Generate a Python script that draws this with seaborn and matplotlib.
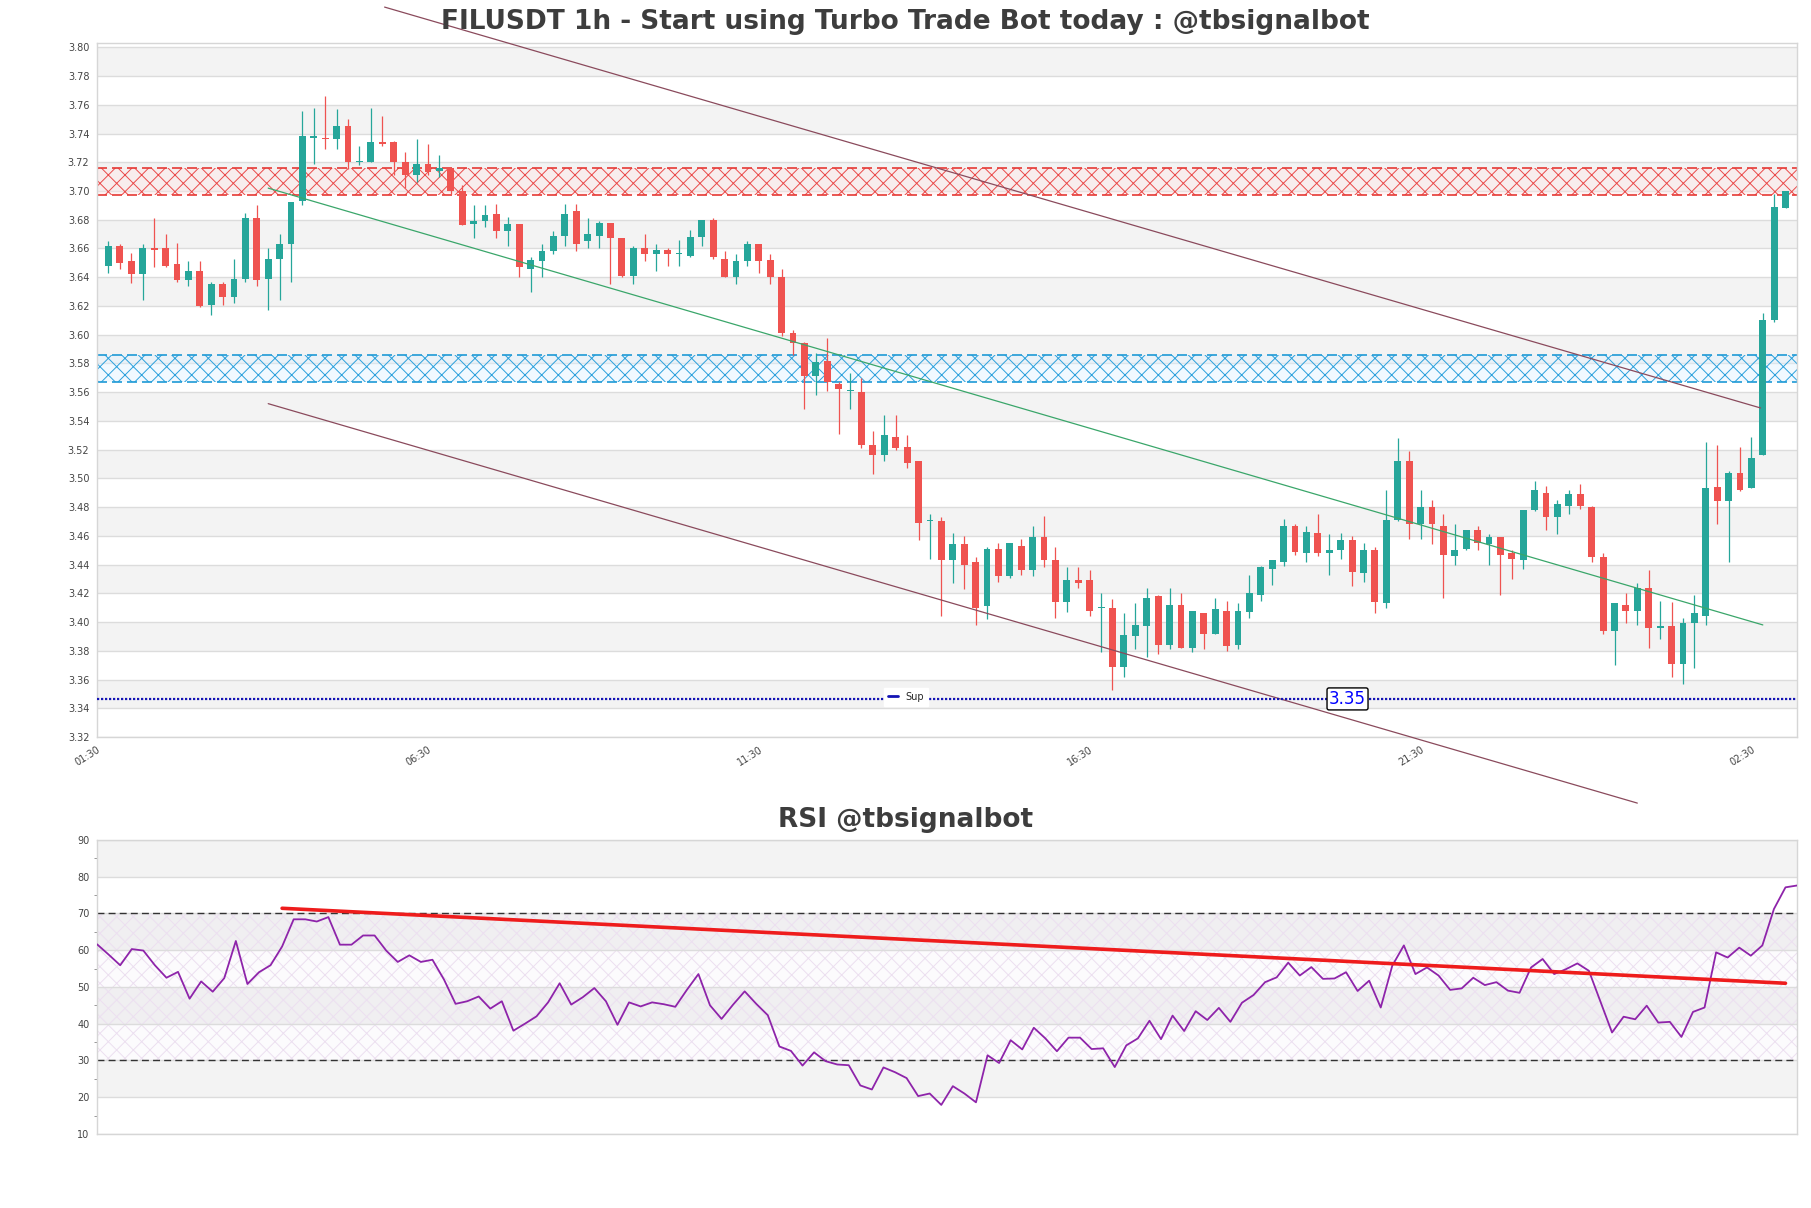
import numpy as np
import pandas as pd
import seaborn as sns
import matplotlib.pyplot as plt
from matplotlib.lines import Line2D

# ---- candle data (1h FILUSDT) ----
opens = [3.648, 3.662, 3.651, 3.642, 3.660, 3.660, 3.649, 3.638, 3.644, 3.621,
         3.635, 3.626, 3.639, 3.681, 3.639, 3.653, 3.663, 3.693, 3.737, 3.737,
         3.736, 3.745, 3.720, 3.720, 3.734, 3.734, 3.720, 3.711, 3.719, 3.714,
         3.716, 3.700, 3.677, 3.679, 3.684, 3.672, 3.677, 3.646, 3.651, 3.658,
         3.669, 3.686, 3.665, 3.669, 3.678, 3.667, 3.641, 3.660, 3.656, 3.659,
         3.656, 3.655, 3.668, 3.680, 3.653, 3.640, 3.651, 3.663, 3.652, 3.640,
         3.601, 3.594, 3.571, 3.582, 3.566, 3.561, 3.560, 3.523, 3.516, 3.529,
         3.522, 3.512, 3.470, 3.470, 3.443, 3.454, 3.442, 3.411, 3.451, 3.432,
         3.453, 3.436, 3.459, 3.443, 3.414, 3.429, 3.429, 3.410, 3.410, 3.369,
         3.390, 3.397, 3.418, 3.384, 3.412, 3.382, 3.406, 3.392, 3.408, 3.384,
         3.407, 3.419, 3.437, 3.442, 3.467, 3.448, 3.462, 3.448, 3.450, 3.457,
         3.434, 3.450, 3.413, 3.471, 3.512, 3.468, 3.480, 3.467, 3.446, 3.451,
         3.464, 3.454, 3.459, 3.448, 3.443, 3.478, 3.490, 3.473, 3.481, 3.489,
         3.480, 3.445, 3.394, 3.412, 3.408, 3.424, 3.396, 3.397, 3.371, 3.399,
         3.404, 3.494, 3.484, 3.504, 3.493, 3.516, 3.610, 3.688]
highs = [3.665, 3.663, 3.657, 3.663, 3.681, 3.670, 3.664, 3.651, 3.651, 3.637,
         3.637, 3.653, 3.685, 3.690, 3.660, 3.670, 3.692, 3.756, 3.758, 3.766,
         3.757, 3.750, 3.731, 3.758, 3.752, 3.735, 3.727, 3.736, 3.733, 3.725,
         3.716, 3.704, 3.690, 3.690, 3.691, 3.682, 3.677, 3.654, 3.663, 3.672,
         3.691, 3.691, 3.681, 3.679, 3.678, 3.667, 3.662, 3.670, 3.663, 3.660,
         3.666, 3.673, 3.680, 3.681, 3.658, 3.656, 3.665, 3.663, 3.656, 3.646,
         3.603, 3.595, 3.587, 3.598, 3.567, 3.573, 3.570, 3.533, 3.544, 3.544,
         3.530, 3.512, 3.475, 3.473, 3.462, 3.460, 3.445, 3.452, 3.455, 3.455,
         3.458, 3.467, 3.474, 3.452, 3.438, 3.438, 3.436, 3.420, 3.416, 3.406,
         3.413, 3.424, 3.419, 3.424, 3.420, 3.408, 3.406, 3.417, 3.415, 3.413,
         3.433, 3.439, 3.443, 3.472, 3.468, 3.467, 3.475, 3.461, 3.462, 3.460,
         3.455, 3.452, 3.492, 3.528, 3.519, 3.492, 3.485, 3.475, 3.468, 3.464,
         3.467, 3.461, 3.459, 3.450, 3.478, 3.498, 3.495, 3.485, 3.492, 3.496,
         3.481, 3.448, 3.413, 3.420, 3.427, 3.436, 3.415, 3.414, 3.403, 3.419,
         3.525, 3.523, 3.505, 3.522, 3.529, 3.615, 3.698, 3.700]
lows = [3.643, 3.646, 3.636, 3.624, 3.647, 3.647, 3.637, 3.634, 3.619, 3.614,
        3.621, 3.622, 3.637, 3.634, 3.617, 3.624, 3.637, 3.690, 3.719, 3.729,
        3.729, 3.715, 3.718, 3.720, 3.731, 3.711, 3.702, 3.706, 3.711, 3.710,
        3.698, 3.676, 3.667, 3.675, 3.667, 3.662, 3.640, 3.630, 3.640, 3.656,
        3.662, 3.658, 3.660, 3.660, 3.635, 3.640, 3.635, 3.651, 3.644, 3.648,
        3.648, 3.654, 3.662, 3.653, 3.640, 3.635, 3.648, 3.643, 3.635, 3.599,
        3.586, 3.548, 3.558, 3.561, 3.531, 3.548, 3.521, 3.503, 3.512, 3.520,
        3.507, 3.457, 3.444, 3.404, 3.427, 3.423, 3.398, 3.402, 3.428, 3.431,
        3.433, 3.432, 3.438, 3.403, 3.407, 3.424, 3.404, 3.379, 3.353, 3.362,
        3.381, 3.376, 3.378, 3.381, 3.382, 3.379, 3.381, 3.392, 3.380, 3.381,
        3.403, 3.415, 3.426, 3.439, 3.447, 3.442, 3.446, 3.433, 3.444, 3.425,
        3.428, 3.406, 3.410, 3.470, 3.458, 3.458, 3.454, 3.417, 3.440, 3.450,
        3.450, 3.440, 3.419, 3.430, 3.437, 3.477, 3.464, 3.461, 3.475, 3.479,
        3.442, 3.392, 3.370, 3.399, 3.398, 3.382, 3.388, 3.362, 3.357, 3.368,
        3.398, 3.468, 3.442, 3.491, 3.493, 3.516, 3.609, 3.688]
closes = [3.662, 3.650, 3.642, 3.660, 3.659, 3.648, 3.638, 3.644, 3.620, 3.635,
          3.626, 3.639, 3.681, 3.638, 3.653, 3.663, 3.692, 3.738, 3.738, 3.736,
          3.745, 3.720, 3.721, 3.734, 3.733, 3.720, 3.711, 3.719, 3.713, 3.716,
          3.700, 3.676, 3.679, 3.683, 3.672, 3.677, 3.647, 3.652, 3.658, 3.669,
          3.684, 3.663, 3.670, 3.678, 3.667, 3.641, 3.660, 3.656, 3.659, 3.656,
          3.656, 3.668, 3.680, 3.654, 3.640, 3.651, 3.663, 3.651, 3.640, 3.601,
          3.594, 3.571, 3.581, 3.567, 3.562, 3.561, 3.523, 3.516, 3.530, 3.521,
          3.511, 3.469, 3.471, 3.443, 3.454, 3.440, 3.410, 3.451, 3.432, 3.455,
          3.436, 3.459, 3.443, 3.414, 3.429, 3.427, 3.408, 3.4105, 3.369, 3.391,
          3.398, 3.417, 3.384, 3.412, 3.382, 3.408, 3.392, 3.409, 3.383, 3.408,
          3.420, 3.438, 3.443, 3.467, 3.449, 3.463, 3.448, 3.450, 3.457, 3.435,
          3.450, 3.414, 3.471, 3.512, 3.468, 3.480, 3.468, 3.447, 3.450, 3.464,
          3.455, 3.459, 3.447, 3.444, 3.478, 3.492, 3.473, 3.482, 3.489, 3.481,
          3.445, 3.394, 3.413, 3.408, 3.424, 3.396, 3.397, 3.371, 3.399, 3.406,
          3.493, 3.484, 3.504, 3.492, 3.514, 3.610, 3.689, 3.700]

rsi = [61.6, 58.8, 55.9, 60.3, 59.9, 55.9, 52.5, 54.1, 46.8, 51.5,
       48.7, 52.4, 62.5, 50.8, 54.0, 55.9, 61.0, 68.4, 68.4, 67.8,
       69.0, 61.5, 61.5, 64.0, 64.0, 59.9, 56.8, 58.6, 56.8, 57.4,
       52.0, 45.4, 46.1, 47.4, 44.1, 46.1, 38.1, 40.0, 42.0, 45.8,
       51.0, 45.2, 47.2, 49.7, 46.1, 39.7, 45.8, 44.7, 45.8, 45.3,
       44.6, 49.2, 53.5, 45.0, 41.3, 45.2, 48.8, 45.4, 42.3, 33.8,
       32.6, 28.6, 32.2, 29.8, 28.9, 28.7, 23.2, 22.1, 28.1, 26.8,
       25.2, 20.3, 21.0, 17.9, 23.0, 21.0, 18.6,
       31.4, 29.3, 35.5, 33.0, 38.9, 36.0, 32.5, 36.2, 36.2, 33.1,
       33.3, 28.2, 34.1, 36.0, 40.8, 35.8, 42.2, 38.0, 43.4, 41.0,
       44.3, 40.5, 45.7, 47.8, 51.3, 52.6, 56.6, 53.1, 55.4, 52.2,
       52.3, 54.0, 48.9, 51.7, 44.4, 55.8, 61.3, 53.5, 55.3, 53.1,
       49.2, 49.6, 52.5, 50.5, 51.3, 49.0, 48.4, 55.3, 57.6, 53.5,
       54.8, 56.4, 54.4, 46.0, 37.6, 41.9, 41.2, 44.9, 40.3, 40.5,
       36.4, 43.2, 44.4, 59.4, 58.0, 60.7, 58.5, 61.3, 71.2, 77.1,
       77.6]

time_labels = ['01:30', '06:30', '11:30', '16:30', '21:30', '02:30']

# zones / levels / trendlines (candle index, price)
resist_zone = [3.697, 3.716]
support_zone = [3.567, 3.586]
sup_level = 3.3465
channel_top_x, channel_top_y = [24.2, 144.8], [3.828, 3.549]
channel_bot_x, channel_bot_y = [14.0, 134.0], [3.552, 3.274]
mid_trend_x, mid_trend_y = [14.0, 145.0], [3.702, 3.398]
rsi_trend_x, rsi_trend_y = [16.0, 146.0], [71.4, 51.0]

GREEN = '#26a69a'
RED = '#ef5350'

sns.set_style('white')
plt.rcParams['font.family'] = ['DejaVu Sans']
plt.rcParams['hatch.linewidth'] = 0.7

df = pd.DataFrame({'open': opens, 'high': highs, 'low': lows, 'close': closes})
df['x'] = np.arange(len(df))
df['up'] = df['close'] >= df['open']
df['color'] = np.where(df['up'], GREEN, RED)
df['body_lo'] = df[['open', 'close']].min(axis=1)
df['body_h'] = (df['close'] - df['open']).abs().clip(lower=0.0006)

fig = plt.figure(figsize=(18.11, 12.08), dpi=100)
ax = fig.add_axes([0.0536, 0.3899, 0.9387, 0.5745])
rax = fig.add_axes([0.0536, 0.0613, 0.9387, 0.2434])

# ---------- price chart ----------
for lo in np.arange(3.34, 3.80, 0.04):
    ax.axhspan(lo, lo + 0.02, color='#f3f3f3', lw=0, zorder=0)

ax.axhspan(*resist_zone, facecolor=(1, 0.9, 0.9, 0.45), edgecolor='#ea4a4a',
           hatch='xx', lw=0, zorder=1)
ax.axhspan(*support_zone, facecolor=(0.88, 0.95, 1, 0.45), edgecolor='#2aa0dc',
           hatch='xx', lw=0, zorder=1)
for v in resist_zone:
    ax.axhline(v, color='#e53935', lw=1.2, ls=(0, (6, 3)), zorder=1.5)
for v in support_zone:
    ax.axhline(v, color='#1e9ad6', lw=1.2, ls=(0, (6, 3)), zorder=1.5)

ax.vlines(df['x'], df['low'], df['high'], color=df['color'], lw=0.9, zorder=3)
ax.bar(df['x'], df['body_h'], bottom=df['body_lo'], width=0.6,
       color=df['color'], lw=0, zorder=4)

ax.plot(channel_top_x, channel_top_y, color='#8a4a5c', lw=0.9, clip_on=False, zorder=5)
ax.plot(channel_bot_x, channel_bot_y, color='#8a4a5c', lw=0.9, clip_on=False, zorder=5)
ax.plot(mid_trend_x, mid_trend_y, color='#3aa66a', lw=0.9, zorder=5)

ax.axhline(sup_level, color='#1414b4', lw=1.6, ls=(0, (1, 0.8)), zorder=5)
ax.text(108.6, sup_level, '3.35', color='blue', fontsize=12, ha='center', va='center',
        zorder=7, bbox=dict(boxstyle='round,pad=0.12', fc='white', ec='black', lw=1))
leg = ax.legend(handles=[Line2D([], [], color='#1414b4', lw=2)], labels=['Sup'],
                loc='center', bbox_to_anchor=(0.476, 0.058), fontsize=7,
                handlelength=1.0, frameon=True, framealpha=1, edgecolor='white',
                fancybox=False)
leg.set_zorder(8)

ax.set_xlim(-1, 148)
ax.set_ylim(3.32, 3.803)
ax.set_yticks(np.arange(3.32, 3.801, 0.02))
ax.set_yticklabels([f'{v:.2f}' for v in np.arange(3.32, 3.801, 0.02)])
ax.set_xticks(np.arange(-1, 148, 29))
ax.set_xticklabels(time_labels, rotation=32, ha='right', rotation_mode='anchor')
ax.grid(axis='y', color='#dcdcdc', lw=1)
ax.set_axisbelow(True)
ax.tick_params(labelsize=7, colors='#444444', length=2)

# ---------- RSI ----------
rdf = pd.DataFrame({'x': np.arange(len(rsi)), 'rsi': rsi})
for lo in [20, 40, 60, 80]:
    rax.axhspan(lo, lo + 10, color='#f3f3f3', lw=0, zorder=0)
rax.axhspan(30, 70, facecolor=(0.85, 0.8, 0.9, 0.08), edgecolor='#ecdff0',
            hatch='xx', lw=0, zorder=0.5)
for v in [30, 70]:
    rax.axhline(v, color='#333333', lw=1, ls=(0, (5, 3)), zorder=2)
sns.lineplot(data=rdf, x='x', y='rsi', ax=rax, color='#8e24aa', lw=1.3, zorder=3)
rax.plot(rsi_trend_x, rsi_trend_y, color='#ee1c1c', lw=2.6, zorder=4)

rax.set_xlim(0, len(rsi) - 1)
rax.set_ylim(10, 90)
rax.set_yticks(np.arange(10, 91, 10))
rax.set_yticks(np.arange(15, 90, 10), minor=True)
rax.set_xticks([])
rax.set_xlabel('')
rax.set_ylabel('')
rax.grid(axis='y', color='#dcdcdc', lw=1)
rax.set_axisbelow(True)
rax.tick_params(labelsize=7, colors='#444444', length=2)
rax.tick_params(which='minor', length=2, colors='#888888', left=True)

for a in (ax, rax):
    for s in a.spines.values():
        s.set_color('#d6d6d6')
        s.set_linewidth(1)

fig.text(0.5, 0.9818, 'FILUSDT 1h - Start using Turbo Trade Bot today : @tbsignalbot',
         ha='center', va='center', fontsize=19, fontweight='bold', color='#3d3d3d')
fig.text(0.5, 0.3212, 'RSI @tbsignalbot', ha='center', va='center',
         fontsize=19, fontweight='bold', color='#3d3d3d')

fig.savefig('out.png', dpi=100)
